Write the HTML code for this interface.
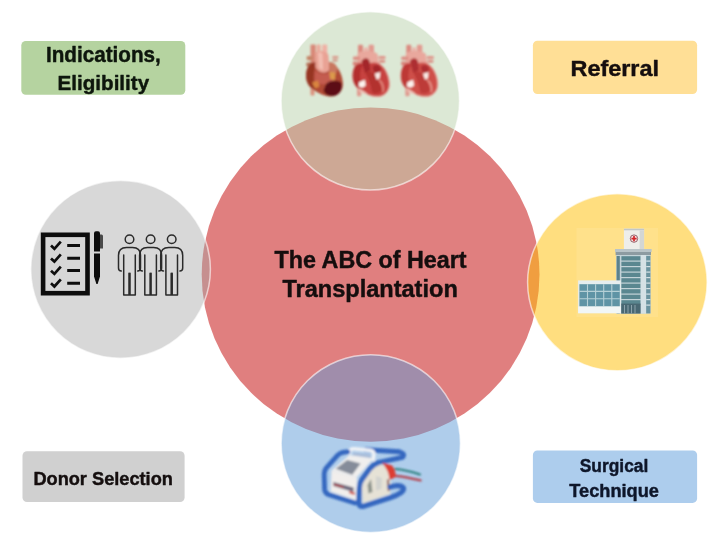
<!DOCTYPE html>
<html><head><meta charset="utf-8"><title>The ABC of Heart Transplantation</title>
<style>
html,body{margin:0;padding:0;background:#fff;}
body{width:720px;height:541px;overflow:hidden;}
svg{display:block;}
text{font-family:"Liberation Sans",sans-serif;font-weight:bold;fill:#141010;}
</style></head><body>
<svg width="720" height="541" viewBox="0 0 720 541">
<defs>
<filter id="blur2" x="-10%" y="-10%" width="120%" height="120%"><feGaussianBlur stdDeviation="0.85"/></filter>
<filter id="blur1" x="-10%" y="-10%" width="120%" height="120%"><feGaussianBlur stdDeviation="0.45"/></filter>
<filter id="soft" x="-2%" y="-2%" width="104%" height="104%"><feGaussianBlur stdDeviation="0.55"/></filter>
</defs>
<rect width="720" height="541" fill="#fff"/>
<g filter="url(#soft)">
<!-- central circle -->
<ellipse id="cred" cx="370.6" cy="274.6" rx="168.9" ry="167.2" fill="#e07f7f"/>
<!-- satellite circles -->
<ellipse id="cgreen" cx="370.3" cy="100.9" rx="89.2" ry="89.1" fill="#b9d1ab" fill-opacity="0.5" stroke="#fff" stroke-opacity="0.6" stroke-width="1.5"/>
<ellipse id="cgrey" cx="120.6" cy="269.35" rx="89.8" ry="88.95" fill="#a5a5a5" fill-opacity="0.43" stroke="#fff" stroke-opacity="0.6" stroke-width="1.5"/>
<ellipse id="cyellow" cx="617.35" cy="282.3" rx="89.75" ry="88.5" fill="#ffbe00" fill-opacity="0.5" stroke="#fff" stroke-opacity="0.6" stroke-width="1.5"/>
<ellipse id="cblue" cx="370.8" cy="443.6" rx="89.6" ry="88.9" fill="#5f9bd7" fill-opacity="0.5" stroke="#fff" stroke-opacity="0.6" stroke-width="1.5"/>
<!-- ICONS -->
<g id="icons">
<!-- hearts -->
<defs>
<g id="hvessels">
  <rect x="6" y="0.6" width="5" height="14" rx="1.2" fill="#dc8a80"/>
  <rect x="16.6" y="0.6" width="5.4" height="14" rx="1.2" fill="#e39a90"/>
  <rect x="11.8" y="3.4" width="4" height="9" rx="1" fill="#ecb4aa"/>
  <path d="M5.5,9 C8,6.4 22,5.6 25.5,10 L27,20 L6,21 Z" fill="#e9a89d"/>
  <rect x="1" y="12.2" width="7" height="3.6" rx="1" fill="#dd8e84"/>
  <rect x="0.8" y="17.4" width="7" height="3.8" rx="1" fill="#d98379"/>
  <rect x="26.5" y="11.8" width="7" height="3" rx="1" fill="#e0958b"/>
  <rect x="27" y="15.8" width="6.2" height="2.8" rx="1" fill="#dc8d83"/>
  <rect x="5" y="42" width="4.2" height="10" rx="1" fill="#e09a8f"/>
</g>
<path id="hbody" d="M3,22 C-1.2,29 -0.2,40 6.5,44.5 C11,47.5 16,51.8 24,52.4 C32,53 38,47 37.4,39 C36.8,30 32.5,22.5 27,19.2 C22,16.2 17,19.5 13.5,18.6 C9,17.4 5.2,18.4 3,22 Z"/>
</defs>
<g id="heart1" filter="url(#blur2)" transform="translate(305.5,44)">
  <rect x="5" y="0.4" width="5.2" height="19" rx="1.2" fill="#d98878"/>
  <rect x="11.1" y="0.4" width="4" height="13" rx="1" fill="#ecaa9c"/>
  <rect x="16.7" y="0.4" width="5" height="13" rx="1.2" fill="#f0b1a4"/>
  <rect x="1.2" y="12" width="6" height="4.2" rx="1" fill="#c58468"/>
  <rect x="0.8" y="18.6" width="6" height="4" rx="1" fill="#b8735a"/>
  <rect x="26.7" y="12" width="6.2" height="2.4" rx="1" fill="#d9988a"/>
  <rect x="26.7" y="15.4" width="5.6" height="2.2" rx="1" fill="#cf8c7c"/>
  <rect x="5" y="42" width="4" height="9.6" rx="1" fill="#dc927e"/>
  <use href="#hbody" fill="#b04836"/>
  <path d="M3,22 C-1,29 0,40 6.5,44.5 L10.5,46.5 C7,38 7.5,28 10.5,19 C7,18.2 4.5,19.5 3,22 Z" fill="#963624"/>
  <path d="M9.6,9 C13,5.6 21,6.4 23,11 L24,26 C19,31 12.5,28.6 10,23 Z" fill="#e9a294"/>
  <path d="M12.5,9 C14,8 16,8 17,10 L17.5,26 L13.5,24 Z" fill="#f3beb2"/>
  <path d="M9.5,26 C14,30.5 20,31.5 25,27.5 L28.5,37 C22,41 14,41 9,38 Z" fill="#c45c50"/>
  <path d="M23.5,18.5 C27.5,17.4 31.5,20.5 32,26 L29,31.5 L24,28 Z" fill="#c9775f"/>
  <path d="M6.5,38.5 L12.5,36.4 L14,42.6 L9.5,44.6 Z" fill="#d9853f"/>
  <path d="M23.8,28 L30,28.6 L29.4,36 L24.8,35 Z" fill="#dc9a4c"/>
  <path d="M20.5,40 C23,36.4 31,35.6 35.4,38 C37.6,43 36,50 28,52 C23,52.6 19,50 18,46.6 Z" fill="#5c1016"/>
</g>
<g id="heart2" filter="url(#blur2)" transform="translate(352,44.2)">
  <use href="#hvessels"/>
  <use href="#hbody" fill="#c8433f" stroke="#eaa79e" stroke-width="0.9"/>
  <path d="M3,22 C-1,29 0,40 6.5,44.5 L10,40 C7,34 8,27 10.5,21 C7,18.5 4.5,19.5 3,22 Z" fill="#b32e2e"/>
  <path d="M9.6,17 C11.5,13 16.5,13 17.5,17 L18.5,26 L13,29 Z" fill="#a3282b"/>
  <path d="M20.5,22.5 C24,19.5 28.5,21 29,25 L27,29 L21.5,27.5 Z" fill="#a3282b"/>
  <path d="M13,28 C17,26 22,28 25,32 L30,46 C27,50 22,50 20,48 C19,40 16,34 13,28 Z" fill="#b3302f"/>
  <path d="M22.7,29.6 L28.3,27.8 L27.6,34 L24.8,35.6 Z" fill="#fbeee9"/>
  <path d="M7,38 L12.8,35.6 L13.8,41.2 L10.4,43.6 L6.6,42.2 Z" fill="#fdf3ef"/>
  <path d="M5.5,44 C9,45 13,47 15.5,50 L11,49.6 C8.5,48 6.5,46 5.5,44 Z" fill="#f0c4ba"/>
  <path d="M27,36 C30,38 32,43 31,48" stroke="#e58f84" stroke-width="1.6" fill="none"/>
</g>
<g id="heart3" filter="url(#blur2)" transform="translate(400.3,44.2)">
  <use href="#hvessels"/>
  <use href="#hbody" fill="#cf4f4a" stroke="#eaa79e" stroke-width="0.9"/>
  <path d="M3,22 C-1,29 0,40 6.5,44.5 L10,40 C7,34 8,27 10.5,21 C7,18.5 4.5,19.5 3,22 Z" fill="#bd3835"/>
  <path d="M9.6,17 C11.5,13 16.5,13 17.5,17 L18.5,26 L13,29 Z" fill="#ad2f31"/>
  <path d="M20.5,22.5 C24,19.5 28.5,21 29,25 L27,29 L21.5,27.5 Z" fill="#ad2f31"/>
  <path d="M13,28 C17,26 22,28 25,32 L30,46 C27,50 22,50 20,48 C19,40 16,34 13,28 Z" fill="#bd3b38"/>
  <path d="M22.7,29.6 L28.3,27.8 L27.6,34 L24.8,35.6 Z" fill="#fbeee9"/>
  <path d="M7,38 L12.8,35.6 L13.8,41.2 L10.4,43.6 L6.6,42.2 Z" fill="#fdf3ef"/>
  <path d="M5.5,44 C9,45 13,47 15.5,50 L11,49.6 C8.5,48 6.5,46 5.5,44 Z" fill="#f0c4ba"/>
  <path d="M27,36 C30,38 32,43 31,48" stroke="#e99b90" stroke-width="1.6" fill="none"/>
</g>


<!-- checklist -->
<g id="checklist">
  <rect x="43.1" y="234.8" width="44.4" height="58.4" fill="#d6d6d6" stroke="#0d0d0d" stroke-width="4.6"/>
  <g stroke="#0d0d0d" stroke-width="3" fill="none">
    <path d="M67.2,245.5H80 M67.2,258.3H80 M67.2,270.6H80 M67.2,283.2H80"/>
    <path d="M51,245.6l3.4,3.2l6.4,-7.2 M51,258.4l3.4,3.2l6.4,-7.2 M51,270.7l3.4,3.2l6.4,-7.2 M51,283.3l3.4,3.2l6.4,-7.2" stroke-width="2.7"/>
  </g>
  <!-- pen -->
  <path d="M94,233.2 q0,-2 2,-2 h2 q2,0 2,2 V251.6 H94 Z" fill="#0d0d0d"/>
  <path d="M94,253.4 H100 V276.5 L97.6,284 H96.4 L94,276.5 Z" fill="#0d0d0d"/>
  <path d="M100,234.5 h1.6 q1.4,0 1.4,1.6 V248.6 H100 Z" fill="#4a4a4a"/>
</g>
<!-- people -->
<defs>
<g id="person" fill="none" stroke="#2b2b2b" stroke-width="1.5" stroke-linecap="round" stroke-linejoin="round">
  <circle cx="0" cy="239.3" r="4.3"/>
  <path d="M-8.2,271 q-2.8,0 -2.8,-3 V255.4 c0,-5 3,-8 8,-8 h6 c5,0 8,3 8,8 V268 q0,3 -2.8,3"/>
  <path d="M-5.8,255 V295 H-0.5 V273.2 M5.8,255 V295 H0.5 V273.2"/>
</g>
</defs>
<use href="#person" x="129.5"/>
<use href="#person" x="150.6"/>
<use href="#person" x="171.7"/>
<!-- hospital -->
<g id="hospital" filter="url(#blur1)">
  <rect x="576.5" y="228" width="81.5" height="89" fill="#fff" fill-opacity="0.08"/>
  <!-- sign -->
  <rect x="623.9" y="228.7" width="20.2" height="20.6" fill="#eeeeea"/>
  <rect x="623.9" y="228.7" width="20.2" height="1.6" fill="#c2c7c8"/>
  <rect x="639.6" y="230.3" width="4.5" height="19" fill="#d3d6d4"/>
  <circle cx="634" cy="238.6" r="3.7" fill="#f4e6e4" stroke="#8a5560" stroke-width="0.9"/>
  <path d="M634,236v5.2M631.4,238.6h5.2" stroke="#d3262b" stroke-width="1.7"/>
  <!-- tower roof -->
  <rect x="615" y="249" width="36.6" height="3" fill="#b9c4c8"/>
  <rect x="615.6" y="252" width="35.4" height="3.2" fill="#8d9ba1"/>
  <!-- tower body -->
  <rect x="616.2" y="255" width="34.4" height="58.6" fill="#c3d3d8"/>
  <rect x="616.6" y="256" width="3.2" height="57.4" fill="#5b828d"/>
  <rect x="646.2" y="256" width="4.2" height="57.4" fill="#6b939f"/>
  <rect x="641" y="255" width="5" height="58.6" fill="#d5e1e5"/>
  <g fill="#5a8790"><rect x="621.4" y="256.2" width="19" height="4.3"/><rect x="621.4" y="261.7" width="19" height="4.3"/><rect x="621.4" y="267.2" width="19" height="4.3"/><rect x="621.4" y="272.7" width="19" height="4.3"/><rect x="621.4" y="278.2" width="19" height="4.3"/><rect x="621.4" y="283.7" width="19" height="4.3"/><rect x="621.4" y="289.2" width="19" height="4.3"/><rect x="621.4" y="294.7" width="19" height="4.3"/><rect x="621.4" y="300.2" width="19" height="4.3"/></g>
  <g fill="#d5e1e5"><rect x="646.2" y="260.5" width="4.2" height="1.2"/><rect x="646.2" y="266.0" width="4.2" height="1.2"/><rect x="646.2" y="271.5" width="4.2" height="1.2"/><rect x="646.2" y="277.0" width="4.2" height="1.2"/><rect x="646.2" y="282.5" width="4.2" height="1.2"/><rect x="646.2" y="288.0" width="4.2" height="1.2"/><rect x="646.2" y="293.5" width="4.2" height="1.2"/><rect x="646.2" y="299.0" width="4.2" height="1.2"/><rect x="646.2" y="304.5" width="4.2" height="1.2"/></g>
  <rect x="621.2" y="303.6" width="19.4" height="10" fill="#4a6873"/>
  <path d="M624.5,305v8.5M628,305v8.5M631.5,305v8.5M635,305v8.5" stroke="#93a9b1" stroke-width="0.9"/>
  <!-- low building -->
  <rect x="578.1" y="280.4" width="42.8" height="32.8" fill="#e6eeee"/>
  <rect x="579.4" y="284.2" width="40.4" height="22.2" fill="#5f94a5"/>
  <path d="M579.4,291.4h40.4M579.4,298.8h40.4M587.5,284.2v22.2M595.6,284.2v22.2M603.7,284.2v22.2M611.8,284.2v22.2" stroke="#b5d0d6" stroke-width="1.1"/>
  <rect x="578.1" y="306.6" width="42.8" height="6.6" fill="#f1f6f6"/>
</g>
<!-- perfusion device -->
<g id="device" filter="url(#blur2)" stroke-linecap="round" stroke-linejoin="round">
  <!-- tubes -->
  <path d="M395,469 C404,469.6 412,471.8 420,474.4" stroke="#2c7f7c" stroke-width="2.1" fill="none"/>
  <path d="M395,475.8 C404,476.6 413,478.6 420.6,480.4" stroke="#b5434d" stroke-width="2.2" fill="none"/>
  <!-- back/top frame -->
  <path d="M366,449.8 L399.5,451.8 Q405.5,453.6 402.6,457.2 L378,462.6" stroke="#3468c0" stroke-width="5" fill="none"/>
  <!-- top white handle -->
  <path d="M349.6,453 Q349.4,448.6 354,448.8 L370,450.4 Q374.2,451 373.8,455 L373.2,459.5" stroke="#f1f3f6" stroke-width="3.6" fill="none"/>
  <path d="M353,456.5 L370.5,458.8 L370.8,454.6 L353.2,452.6 Z" fill="#a9bcd8"/>
  <!-- body top face -->
  <path d="M331.5,470.5 L349.5,455 L373.5,458.6 L357,477 Z" fill="#f0efee"/>
  <path d="M335.8,468.8 L347.2,460 L360.6,463.4 L352.2,474.8 Z" fill="#858c9a"/>
  <!-- body left face -->
  <path d="M331.5,470.5 L357,477 L356,500 L330.6,491.4 Z" fill="#f1eeec"/>
  <path d="M333.4,482 L353.6,487.6 L353.5,492 L333.3,486 Z" fill="#6f6c80"/>
  <path d="M334.5,484.6 L343,487" stroke="#c8413c" stroke-width="1.5"/>
  <path d="M350,492.4 L354,493.6" stroke="#d0534a" stroke-width="2.2"/>
  <!-- right face -->
  <path d="M361.5,481.5 C365,470 372,463.8 379,464 C387,465.5 391,472 390.5,482 L390,494 L363,503 Z" fill="#e6e2d6"/>
  <path d="M367.5,485 L371,479 L372.5,492 L368.5,493.4 Z" fill="#8f958e"/>
  <path d="M376,476 L382,478 L381.4,489 L376,490.6 Z" fill="#d2d3cf"/>
  <path d="M388,480 L388.6,490.4" stroke="#7a2a2a" stroke-width="1.6"/>
  <!-- red part -->
  <path d="M381.8,462.4 L392,465.4 Q396.2,470.5 395.6,477 L389.5,480 Q389,470 381.8,462.4 Z" fill="#dd3d33"/>
  <!-- left frame loop -->
  <path d="M348,451.8 Q341,451.6 337.5,455.4 L326.6,467.6 Q324.2,470.4 324.2,474.6 L324.6,489.4 Q325,493.4 329,494.8 L355,503" stroke="#3468c0" stroke-width="4.8" fill="none"/>
  <!-- front (middle) frame loop -->
  <path d="M379,462.4 Q373,464.6 369.6,469 L362,479.6 Q359.6,483 359.5,487 L358.8,502.6 Q358.8,507.4 363.6,506.2 L390,497.8 Q396,496 401,492.6 Q406,488.6 401.4,486.2 Q397,484.6 390,487" stroke="#3468c0" stroke-width="5.2" fill="none"/>
</g>

</g>
<!-- label boxes -->
<rect x="21.3" y="41" width="164" height="53.7" rx="4.5" fill="#b5d3a0"/>
<rect x="532.9" y="40.8" width="164.2" height="53.2" rx="4.5" fill="#ffdf96"/>
<rect x="22.5" y="451.2" width="162.1" height="50.9" rx="4.5" fill="#d0d0d0"/>
<rect x="532.9" y="450.4" width="164.2" height="52.5" rx="4.5" fill="#adcded"/>
<g stroke="#141010" stroke-width="0.45" stroke-linejoin="round">
<text id="t_ind1" style="fill:#0f170c;stroke:#0f170c" x="46" y="61.5" font-size="21.2" textLength="114.8" lengthAdjust="spacingAndGlyphs">Indications,</text>
<text id="t_ind2" style="fill:#0f170c;stroke:#0f170c" x="57.6" y="89.5" font-size="21" textLength="91.5" lengthAdjust="spacingAndGlyphs">Eligibility</text>
<text id="t_ref" x="570.5" y="76.4" font-size="22.7" textLength="88.5" lengthAdjust="spacingAndGlyphs">Referral</text>
<text id="t_don" x="33.4" y="484.6" font-size="18.5" textLength="139.5" lengthAdjust="spacingAndGlyphs">Donor Selection</text>
<text id="t_sur" style="fill:#10172a;stroke:#10172a" x="579.8" y="471.9" font-size="18.7" textLength="68.5" lengthAdjust="spacingAndGlyphs">Surgical</text>
<text id="t_tec" style="fill:#10172a;stroke:#10172a" x="569.3" y="496.8" font-size="18.7" textLength="89.6" lengthAdjust="spacingAndGlyphs">Technique</text>
<text id="t_t1" x="274.6" y="268" font-size="23.2" textLength="192" lengthAdjust="spacingAndGlyphs">The ABC of Heart</text>
<text id="t_t2" x="282.4" y="297.3" font-size="23.2" textLength="175.4" lengthAdjust="spacingAndGlyphs">Transplantation</text>
</g>
</g>
</svg>
</body></html>
